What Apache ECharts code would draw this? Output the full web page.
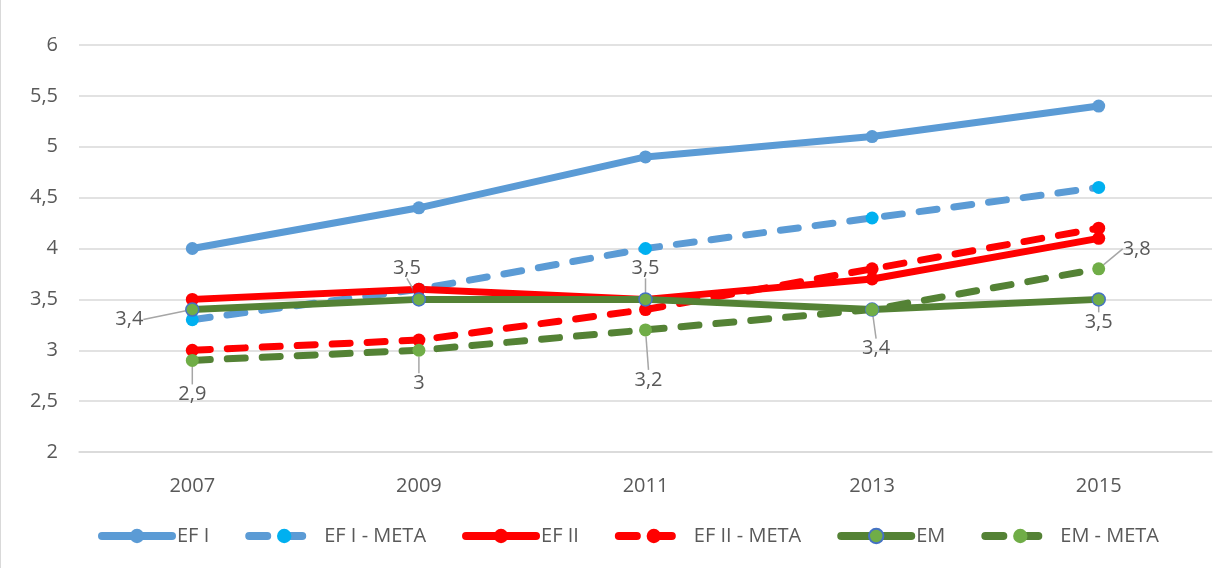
<!DOCTYPE html>
<html>
<head>
<meta charset="utf-8">
<script src="https://cdn.jsdelivr.net/npm/echarts@6/dist/echarts.min.js"></script>
<style>
  html, body { margin: 0; padding: 0; background: #fff; }
  #chart { width: 1227px; height: 568px; box-sizing: border-box; border-left: 1px solid #d9d9d9; }
</style>
</head>
<body>
<div id="chart"></div>
<script>
const years = ['2007', '2009', '2011', '2013', '2015']
const efI = [4.0, 4.4, 4.9, 5.1, 5.4]
const efIMeta = [3.3, 3.6, 4.0, 4.3, 4.6]
const efII = [3.5, 3.6, 3.5, 3.7, 4.1]
const efIIMeta = [3.0, 3.1, 3.4, 3.8, 4.2]
const em = [3.4, 3.5, 3.5, 3.4, 3.5]
const emMeta = [2.9, 3.0, 3.2, 3.4, 3.8]

// label offsets (dx, dy) from the point, null = no label
const emLabelPos = [[-63, 10], [-12, -31], [0, -31], [4, 39], [0, 23]]
const emMetaLabelPos = [[0, 34], [0, 33], [3, 50], null, [38, -20]]

const fmt = v => String(v).replace('.', ',')
const font = 'Open Sans'

const chart = echarts.init(document.getElementById('chart'))

function lineSeries (name, data, color, markerColor, dashed, extra) {
  return Object.assign({
    name,
    type: 'line',
    data,
    symbol: 'circle',
    symbolSize: 13,
    lineStyle: {
      width: 7,
      color,
      type: dashed ? [18, 17] : 'solid',
      cap: 'round',
      join: 'round'
    },
    itemStyle: { color: markerColor },
    emphasis: { disabled: true }
  }, extra || {})
}

function labelled (pos) {
  return {
    label: {
      show: true,
      position: 'inside',
      formatter: p => pos[p.dataIndex] ? fmt(p.value) : '',
      color: '#595959',
      fontSize: 20,
      fontFamily: font
    },
    labelLine: {
      show: true,
      lineStyle: { color: '#a6a6a6', width: 1.5 }
    },
    labelLayout: p => {
      const o = pos[p.dataIndex] || [0, 0]
      return { dx: o[0], dy: o[1] }
    }
  }
}

chart.setOption({
  animation: false,
  grid: { left: 78, right: 15, top: 45, bottom: 116 },
  xAxis: {
    type: 'category',
    data: years,
    axisLine: { lineStyle: { color: '#d9d9d9', width: 1.5 } },
    axisTick: { show: false },
    axisLabel: { color: '#595959', fontSize: 20, fontFamily: font, margin: 24 }
  },
  yAxis: {
    type: 'value',
    min: 2,
    max: 6,
    interval: 0.5,
    axisLine: { show: false },
    axisTick: { show: false },
    splitLine: { lineStyle: { color: '#d9d9d9', width: 1.5 } },
    axisLabel: { color: '#595959', fontSize: 20, fontFamily: font, margin: 21, formatter: fmt }
  },
  legend: {
    top: 521,
    left: 92,
    itemWidth: 70,
    itemHeight: 18,
    itemGap: 36,
    lineStyle: { width: 8 },
    textStyle: { color: '#595959', fontSize: 20, fontFamily: font }
  },
  series: [
    lineSeries('EF I', efI, '#5b9bd5', '#5b9bd5', false),
    lineSeries('EF I - META', efIMeta, '#5b9bd5', '#00b0f0', true),
    lineSeries('EF II', efII, '#ff0000', '#ff0000', false),
    lineSeries('EF II - META', efIIMeta, '#ff0000', '#ff0000', true),
    lineSeries('EM', em, '#548235', '#70ad47', false, Object.assign({
      itemStyle: { color: '#70ad47', borderColor: '#4472c4', borderWidth: 1.5 }
    }, labelled(emLabelPos))),
    lineSeries('EM - META', emMeta, '#548235', '#70ad47', true, labelled(emMetaLabelPos))
  ]
})
</script>
</body>
</html>
